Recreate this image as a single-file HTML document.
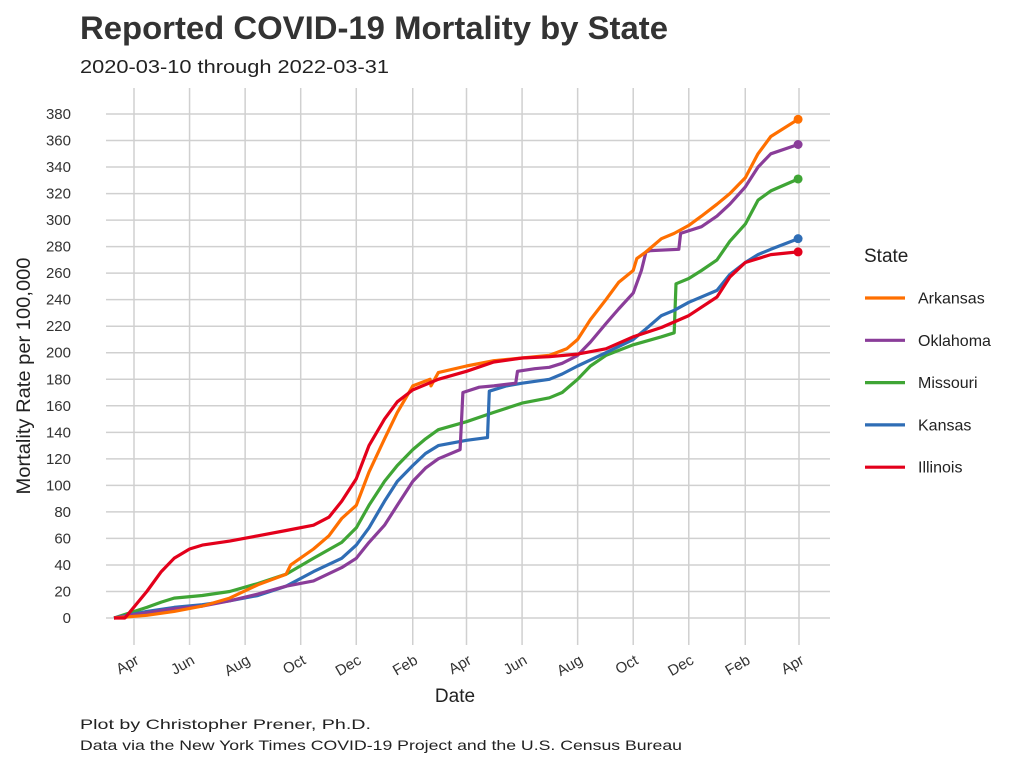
<!DOCTYPE html>
<html><head><meta charset="utf-8"><style>
body{margin:0;background:#fff;font-family:"Liberation Sans",sans-serif;}
svg text{font-family:"Liberation Sans",sans-serif;}
</style></head><body>
<svg id="chart" width="1024" height="768" xmlns="http://www.w3.org/2000/svg">
<rect width="1024" height="768" fill="#fff"/>
<text x="80" y="39" font-size="32" font-weight="bold" fill="#333" textLength="588" lengthAdjust="spacingAndGlyphs">Reported COVID-19 Mortality by State</text>
<text x="80" y="73" font-size="18" fill="#222" textLength="309" lengthAdjust="spacingAndGlyphs">2020-03-10 through 2022-03-31</text>
<g id="grid"></g><g id="series"></g><g id="legend"></g>
<text transform="translate(30,376) rotate(-90)" text-anchor="middle" font-size="19" fill="#222" textLength="237" lengthAdjust="spacingAndGlyphs">Mortality Rate per 100,000</text>
<text x="455" y="702" text-anchor="middle" font-size="19" fill="#222">Date</text>
<text x="80" y="729" font-size="14" fill="#222" textLength="291" lengthAdjust="spacingAndGlyphs">Plot by Christopher Prener, Ph.D.</text>
<text x="80" y="750" font-size="14" fill="#222" textLength="602" lengthAdjust="spacingAndGlyphs">Data via the New York Times COVID-19 Project and the U.S. Census Bureau</text>
</svg>
<script>
const yTicks=[0,20,40,60,80,100,120,140,160,180,200,220,240,260,280,300,320,340,360,380];
const xTickDates=["2020-04-01","2020-06-01","2020-08-01","2020-10-01","2020-12-01","2021-02-01","2021-04-01","2021-06-01","2021-08-01","2021-10-01","2021-12-01","2022-02-01","2022-04-01"];
const xTickLabels=["Apr","Jun","Aug","Oct","Dec","Feb","Apr","Jun","Aug","Oct","Dec","Feb","Apr"];
const stateNames=["Arkansas","Oklahoma","Missouri","Kansas","Illinois"];
const stateColors=["#ff6f00","#8a3d99","#3fa535","#2f6db5","#e3001b"];
const illinoisDates=["2020-03-10","2020-03-22","2020-04-15","2020-05-01","2020-05-15","2020-06-01","2020-06-15","2020-07-15","2020-08-15","2020-09-15","2020-10-15","2020-11-01","2020-11-15","2020-12-01","2020-12-15","2021-01-01","2021-01-15","2021-02-01","2021-03-01","2021-04-01","2021-05-01","2021-06-01","2021-07-01","2021-08-01","2021-09-01","2021-10-01","2021-11-01","2021-12-01","2022-01-01","2022-01-15","2022-02-01","2022-03-01","2022-03-31"];
const illinoisValues=[0,0,20,35,45,52,55,58,62,66,70,76,88,105,130,150,163,172,180,186,193,196,197,199,203,212,219,228,242,257,268,274,276];
const arkansasDates=["2020-03-10","2020-04-15","2020-05-15","2020-06-15","2020-07-15","2020-08-15","2020-09-15","2020-09-20","2020-10-15","2020-11-01","2020-11-15","2020-12-01","2020-12-15","2021-01-01","2021-01-15","2021-02-01","2021-02-20","2021-02-21","2021-03-01","2021-04-01","2021-05-01","2021-06-01","2021-07-01","2021-07-20","2021-08-01","2021-08-15","2021-09-01","2021-09-15","2021-10-01","2021-10-05","2021-10-15","2021-11-01","2021-11-15","2021-12-01","2021-12-15","2022-01-01","2022-01-15","2022-02-01","2022-02-15","2022-03-01","2022-03-31"];
const arkansasValues=[0,2,5,9,15,25,33,40,52,62,75,85,110,135,155,175,180,175,185,190,194,196,198,203,210,225,240,253,262,271,276,286,290,296,303,312,320,332,350,363,376];
const oklahomaDates=["2020-03-10","2020-04-15","2020-05-15","2020-06-15","2020-07-15","2020-08-15","2020-09-15","2020-10-15","2020-11-15","2020-12-01","2020-12-15","2021-01-01","2021-01-15","2021-02-01","2021-02-15","2021-03-01","2021-03-25","2021-03-28","2021-04-15","2021-05-01","2021-05-25","2021-05-27","2021-06-15","2021-07-01","2021-07-15","2021-08-01","2021-08-15","2021-09-01","2021-09-15","2021-10-01","2021-10-10","2021-10-15","2021-10-20","2021-11-20","2021-11-22","2021-12-15","2022-01-01","2022-01-15","2022-02-01","2022-02-15","2022-03-01","2022-03-31"];
const oklahomaValues=[0,4,7,9,13,18,24,28,38,45,57,70,85,103,113,120,127,170,174,175,177,186,188,189,192,198,208,222,233,245,262,276,277,278,290,295,303,312,325,340,350,357];
const missouriDates=["2020-03-10","2020-04-15","2020-05-01","2020-05-15","2020-06-15","2020-07-15","2020-08-15","2020-09-15","2020-10-15","2020-11-15","2020-12-01","2020-12-15","2021-01-01","2021-01-15","2021-02-01","2021-02-15","2021-03-01","2021-04-01","2021-05-01","2021-06-01","2021-07-01","2021-07-15","2021-08-01","2021-08-15","2021-09-01","2021-10-01","2021-11-01","2021-11-15","2021-11-17","2021-12-01","2021-12-15","2022-01-01","2022-01-15","2022-02-01","2022-02-15","2022-03-01","2022-03-31"];
const missouriValues=[0,8,12,15,17,20,26,33,45,57,68,85,103,115,127,135,142,148,155,162,166,170,180,190,198,206,212,215,252,256,262,270,284,297,315,322,331];
const kansasDates=["2020-03-10","2020-04-15","2020-05-15","2020-06-15","2020-07-15","2020-08-15","2020-09-15","2020-10-15","2020-11-15","2020-12-01","2020-12-15","2021-01-01","2021-01-15","2021-02-01","2021-02-15","2021-03-01","2021-04-01","2021-04-24","2021-04-26","2021-05-15","2021-06-01","2021-07-01","2021-07-15","2021-08-01","2021-09-01","2021-10-01","2021-10-15","2021-11-01","2021-11-15","2021-12-01","2022-01-01","2022-01-15","2022-02-01","2022-02-15","2022-03-01","2022-03-31"];
const kansasValues=[0,5,8,10,13,17,24,35,45,55,68,88,103,115,124,130,134,136,171,175,177,180,184,190,200,210,218,228,232,238,247,259,268,274,278,286];

const NS="http://www.w3.org/2000/svg";
const t0=Date.parse("2020-04-01"),t1=Date.parse("2022-04-01");
function xs(d){return 134+(Date.parse(d)-t0)/(t1-t0)*(799-134);}
function ys(v){return 618-v*(618-114)/380;}
function mk(tag,attrs,parent){const e=document.createElementNS(NS,tag);for(const k in attrs)e.setAttribute(k,attrs[k]);parent.appendChild(e);return e;}
const grid=document.getElementById('grid');
yTicks.forEach(v=>{
 const l=mk('line',{x1:106,x2:830,y1:ys(v),y2:ys(v),stroke:'#d0d0d0','stroke-width':1.5},grid);
 
 
 const t=mk('text',{x:71,y:ys(v)+5,'text-anchor':'end','font-size':15,fill:'#333'},grid);
 
 
 t.textContent=v;
});
xTickDates.forEach((d,i)=>{
 const x=xs(d);
 const l=mk('line',{x1:x,x2:x,y1:88,y2:645,stroke:'#d0d0d0','stroke-width':1.5},grid);
 
 
 const t=mk('text',{transform:`translate(${x+6},${663}) rotate(-30)`,'text-anchor':'end','font-size':15,fill:'#333'},grid);
 
 
 t.textContent=xTickLabels[i];
});
const seriesData=[[arkansasDates,arkansasValues],[oklahomaDates,oklahomaValues],[missouriDates,missouriValues],[kansasDates,kansasValues],[illinoisDates,illinoisValues]];
const sg=document.getElementById('series');
const order=[2,3,1,0,4];
order.forEach(i=>{
 const [ds,vs]=seriesData[i];
 const pts=ds.map((d,j)=>xs(d).toFixed(1)+','+ys(vs[j]).toFixed(1)).join(' ');
 const p=mk('polyline',{points:pts,fill:'none',stroke:stateColors[i],'stroke-width':3.2,'stroke-linejoin':'round'},sg);
 
 
 const c=mk('circle',{cx:xs(ds[ds.length-1]),cy:ys(vs[vs.length-1]),r:4.5,fill:stateColors[i]},sg);
 
 
});
const lg=document.getElementById('legend');
const lt=mk('text',{x:864,y:262,'font-size':19,fill:'#222'},lg);


lt.textContent='State';
stateNames.forEach((n,i)=>{
 const y=298+i*42.3;
 const l=mk('line',{x1:865,x2:905,y1:y,y2:y,stroke:stateColors[i],'stroke-width':3.2},lg);
 
 
 const t=mk('text',{x:918,y:y+5.5,'font-size':16,fill:'#222'},lg);
 
 
 t.textContent=n;
});
</script>
</body></html>
